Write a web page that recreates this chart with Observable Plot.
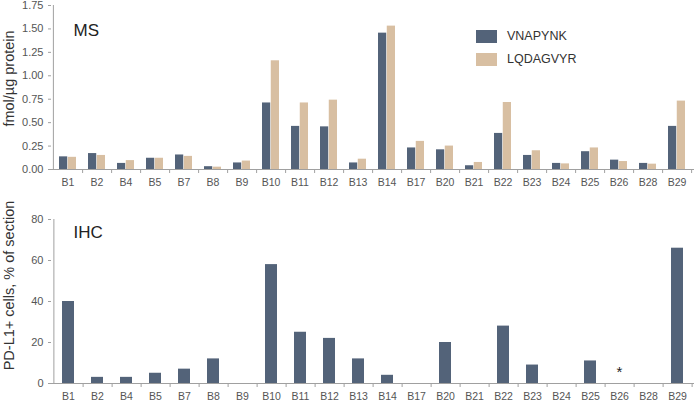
<!DOCTYPE html>
<html>
<head>
<meta charset="utf-8">
<script src="https://cdn.jsdelivr.net/npm/d3@7"></script>
<script src="https://cdn.jsdelivr.net/npm/@observablehq/plot@0.6"></script>
<style>
  html, body { margin: 0; padding: 0; background: #fff; }
  body { width: 696px; height: 401px; position: relative; overflow: hidden; font-family: "Liberation Sans", Arial, sans-serif; }
  #top, #bottom { position: absolute; left: 0; }
  #top { top: 0; }
  #bottom { top: 200px; }
  .legend { position: absolute; left: 476px; font-size: 12.5px; color: #333; display: flex; align-items: center; }
  .legend span.sw { display: inline-block; width: 21px; height: 13px; margin-right: 10px; }
</style>
</head>
<body>
<div id="top"></div>
<div id="bottom"></div>
<div class="legend" style="top:29px"><span class="sw" style="background:#536379"></span>VNAPYNK</div>
<div class="legend" style="top:52px"><span class="sw" style="background:#d8bfa2"></span>LQDAGVYR</div>
<script>
const samples = ["B1","B2","B4","B5","B7","B8","B9","B10","B11","B12","B13","B14","B17","B20","B21","B22","B23","B24","B25","B26","B28","B29"];
const vnapynk = [0.135,0.17,0.065,0.12,0.155,0.03,0.07,0.71,0.46,0.455,0.07,1.455,0.23,0.21,0.04,0.385,0.15,0.065,0.19,0.10,0.065,0.46];
const lqdagvyr = [0.13,0.15,0.095,0.12,0.14,0.025,0.09,1.16,0.71,0.74,0.11,1.53,0.30,0.25,0.075,0.715,0.20,0.06,0.23,0.085,0.057,0.73];
const ihcPercent = [40,3,3,5,7,12,0,58,25,22,12,4,0,20,0,28,9,0,11,null,0,66];
const ihcNotes = [{sample: "B26", note: "*"}];
const msTicks = [0,0.25,0.5,0.75,1,1.25,1.5,1.75];
const ihcTicks = [0,20,40,60,80];

const W = 696, ML = 51, MR = 2;
const step = (W - ML - MR) / samples.length;
const dark = "#536379", tan = "#d8bfa2", axisGray = "#a0a0a0", textGray = "#555";
const font = "Liberation Sans, Arial, sans-serif";

const msData = samples.map((s, i) => ({sample: s, v: vnapynk[i], l: lqdagvyr[i]}));
const ihcData = samples.map((s, i) => ({sample: s, p: ihcPercent[i]})).filter(d => d.p != null);

function baseMarks(yTicks, fmt, label, labelText, titleDy, labelDy) {
  return [
    Plot.ruleY([0], {stroke: axisGray}),
    Plot.ruleX([samples[0]], {dx: -step / 2, stroke: axisGray}),
    Plot.axisX({tickSize: 0, tickPadding: 9, fontSize: 10.5, fill: textGray, label: null}),
    Plot.axisX({tickSize: 4, text: null, dx: step / 2, stroke: axisGray, label: null}),
    Plot.axisY({ticks: yTicks, tickFormat: fmt, tickSize: 3, tickPadding: 5, fontSize: 11, fill: textGray, stroke: axisGray, label: null}),
    Plot.text([label], {frameAnchor: "left", dx: -42, dy: labelDy, rotate: -90, textAnchor: "middle", fontSize: 14.5, fill: "#333"}),
    Plot.text([labelText], {frameAnchor: "top-left", dx: 22, dy: titleDy, fontSize: 17, fill: "#222", textAnchor: "start"})
  ];
}

const padIn1 = 0.4;
const msChart = Plot.plot({
  width: W, height: 200,
  marginLeft: ML, marginRight: MR, marginTop: 5, marginBottom: 31,
  style: {fontFamily: font, fontSize: "13px", color: "#333", background: "#fff", overflow: "visible"},
  x: {domain: samples, paddingInner: padIn1, paddingOuter: padIn1 / 2},
  y: {domain: [0, 1.75]},
  marks: [
    Plot.barY(msData, {x: "sample", y: "v", fill: dark, insetRight: step * (1 - padIn1) / 2}),
    Plot.barY(msData, {x: "sample", y: "l", fill: tan, insetLeft: step * (1 - padIn1) / 2}),
    ...baseMarks(msTicks, d3.format(".2f"), "fmol/\u00b5g protein", "MS", 18, -9)
  ]
});
document.getElementById("top").append(msChart);

const padIn2 = 0.57;
const ihcChart = Plot.plot({
  width: W, height: 201,
  marginLeft: ML, marginRight: MR, marginTop: 19, marginBottom: 18,
  style: {fontFamily: font, fontSize: "13px", color: "#333", background: "#fff", overflow: "visible"},
  x: {domain: samples, paddingInner: padIn2, paddingOuter: padIn2 / 2},
  y: {domain: [0, 80]},
  marks: [
    Plot.barY(ihcData, {x: "sample", y: "p", fill: dark}),
    Plot.text(ihcNotes, {x: "sample", y: () => 0, text: "note", dy: -11, fontSize: 15, fill: "#222"}),
    ...baseMarks(ihcTicks, d3.format("d"), "PD-L1+ cells, % of section", "IHC", 6, -16)
  ]
});
document.getElementById("bottom").append(ihcChart);
</script>
</body>
</html>
